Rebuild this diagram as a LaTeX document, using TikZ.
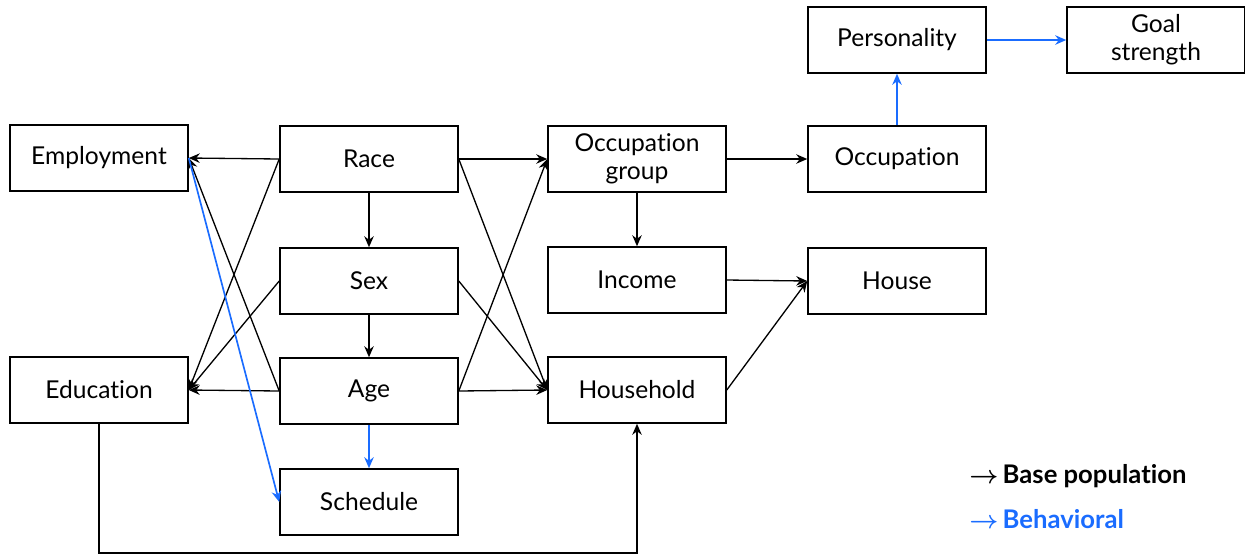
\documentclass[tikz,border=0pt]{standalone}
\usepackage{fontspec}
\setmainfont{Lato}[Ligatures=NoCommon]
\usetikzlibrary{arrows.meta}
\definecolor{behblue}{RGB}{26,108,255}
\tikzset{
  box/.style={rectangle, draw, line width=0.9pt, minimum width=3.56cm, minimum height=1.32cm,
              inner sep=2pt, font=\fontsize{14}{16}\selectfont, align=center},
  base/.style={-{Stealth[length=2.2mm,width=1.9mm]}, line width=0.75pt},
  behav/.style={base, draw=behblue, line width=0.95pt},
  legend/.style={anchor=west, inner sep=0pt, font=\fontsize{14.6}{16}\selectfont\bfseries\boldmath},
}

\begin{document}
\begin{tikzpicture}[x=0.02cm, y=-0.02cm]
  \useasboundingbox (0,0) rectangle (1245,556);

  \node[box] (employment) at (99,158) {Employment};
  \node[box] (education) at (99,390) {Education};
  \node[box] (race) at (369,159) {Race};
  \node[box] (sex) at (369,281) {Sex};
  \node[box] (age) at (369,391) {Age};
  \node[box] (schedule) at (369,502) {Schedule};
  \node[box] (occgroup) at (637,159) {Occupation\\group};
  \node[box] (income) at (637,280) {Income};
  \node[box] (household) at (637,390) {Household};
  \node[box] (occupation) at (897,159) {Occupation};
  \node[box] (house) at (897,281) {House};
  \node[box] (personality) at (897,40) {Personality};
  \node[box] (goal) at (1156,40) {Goal\\strength};

  % base population
  \draw[base] (race.west) -- (employment.east);
  \draw[base] (race.west) -- (education.east);
  \draw[base] (sex.west) -- (education.east);
  \draw[base] (age.west) -- (education.east);
  \draw[base] (age.west) -- (employment.east);
  \draw[base] (race.south) -- (sex.north);
  \draw[base] (sex.south) -- (age.north);
  \draw[base] (race.east) -- (occgroup.west);
  \draw[base] (age.east) -- (occgroup.west);
  \draw[base] (race.east) -- (household.west);
  \draw[base] (sex.east) -- (household.west);
  \draw[base] (age.east) -- (household.west);
  \draw[base] (occgroup.south) -- (income.north);
  \draw[base] (occgroup.east) -- (occupation.west);
  \draw[base] (income.east) -- (house.west);
  \draw[base] (household.east) -- (house.west);
  \draw[base] (education.south) |- (637,553) -- (household.south);

  % behavioral
  \draw[behav] (employment.east) -- (schedule.west);
  \draw[behav] (age.south) -- (schedule.north);
  \draw[behav] (occupation.north) -- (personality.south);
  \draw[behav] (personality.east) -- (goal.west);

  % legend
  \node[legend] (legbase) at (969,476) {$\rightarrow$\,Base population};
  \node[legend, text=behblue] (legbeh) at (969,519) {$\rightarrow$\,Behavioral};
\end{tikzpicture}
\end{document}
